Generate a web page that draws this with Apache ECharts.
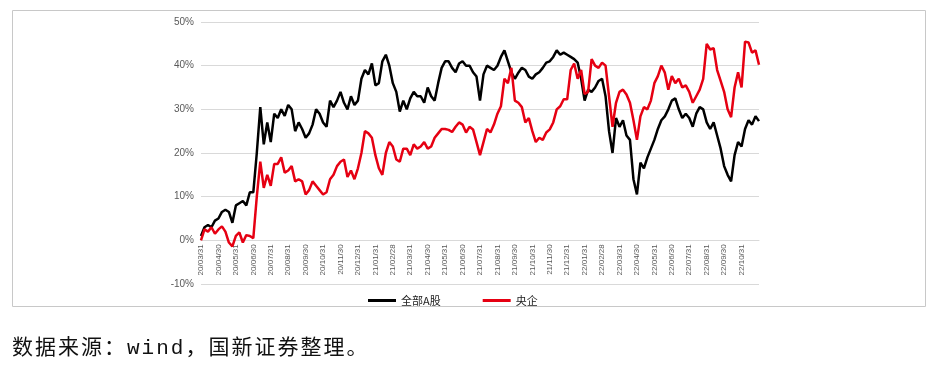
<!DOCTYPE html>
<html>
<head>
<meta charset="utf-8">
<script src="https://cdn.jsdelivr.net/npm/echarts@6/dist/echarts.min.js"></script>
<style>
  html, body { margin: 0; padding: 0; background: #fff; }
  #chart { width: 939px; height: 376px; position: absolute; left: 0; top: 0; }
  #note {
    position: absolute; left: 12px; top: 330px;
    font-family: "Liberation Mono", "Noto Sans CJK SC", sans-serif;
    font-size: 21px; letter-spacing: 2px; color: #111;
  }
</style>
</head>
<body>
<div id="chart"></div>
<div id="note">数据来源：wind，国新证券整理。</div>
<script>
// month-end tick labels, 5 points per month (first point = 20/03/31)
const monthLabels = [
    "20/03/31", "20/04/30", "20/05/31", "20/06/30", "20/07/31", "20/08/31",
    "20/09/30", "20/10/31", "20/11/30", "20/12/31", "21/01/31", "21/02/28",
    "21/03/31", "21/04/30", "21/05/31", "21/06/30", "21/07/31", "21/08/31",
    "21/09/30", "21/10/31", "21/11/30", "21/12/31", "22/01/31", "22/02/28",
    "22/03/31", "22/04/30", "22/05/31", "22/06/30", "22/07/31", "22/08/31",
    "22/09/30", "22/10/31"
];
const pointsPerMonth = 5;

const yTicks = [-10, 0, 10, 20, 30, 40, 50];

// 全部A股 (%)
const allA = [
    1, 3, 3.5, 3, 4.5, 5, 6.5, 7, 6.5, 4,
    8, 8.5, 9, 8, 11, 11, 20, 30.5, 22, 27,
    22.5, 29, 28, 30, 28.5, 31, 30, 25, 27, 25.5,
    23.5, 24.5, 26.5, 30, 29, 27, 26, 32, 30.5, 32,
    34, 31.5, 30, 33, 31, 32, 37, 39, 38, 40.5,
    35.5, 36, 41, 42.5, 40, 36, 34, 29.5, 32, 30,
    32.5, 34, 33, 33, 31.5, 35, 33, 32, 36, 39.5,
    41, 41, 39.5, 38.5, 40.5, 41, 40, 40, 38.5, 37.5,
    32, 38, 40, 39.5, 39, 40, 42, 43.5, 41, 38.5,
    37, 38.4, 39.5, 39, 37.5, 37, 38, 38.5, 39.5, 40.7,
    41, 42, 43.5, 42.5, 43, 42.5, 42, 41.5, 40.7, 37,
    32, 34.5, 34, 35, 36.5, 37, 33, 25, 20, 28,
    26, 27.5, 24, 23, 14, 10.5, 17.8, 16.5, 19, 21,
    23, 25.5, 27.5, 28.4, 30, 32, 32.5, 30, 28, 29,
    28, 26, 29, 30.5, 30, 27, 25.5, 27, 24, 21,
    17, 15, 13.5, 19.5, 22.5, 21.5, 25.5, 27.5, 26.5, 28.4,
    27.3
];

// 央企 (%)
const soe = [
    0, 2.5, 2, 3, 1.5, 2.5, 3.2, 2, -0.5, -1.4,
    1, 1.8, -0.5, 1.2, 1, 0.5, 10, 18, 12, 15,
    12.5, 17.5, 17.5, 19, 15.5, 16, 17, 13.5, 14, 13.5,
    10.5, 11.5, 13.5, 12.5, 11.5, 10.5, 11, 14, 15, 17,
    18, 18.5, 14.5, 16, 14, 16.5, 20, 25, 24.5, 23.5,
    19.5, 16.5, 15, 20, 22.5, 21.5, 18.5, 18, 21, 21,
    19.5, 22, 21, 21.5, 22.5, 21, 21.5, 23.5, 24.5, 25.5,
    25.5, 25.3, 24.8, 26, 27, 26.5, 24.7, 26, 25.4, 22.5,
    19.5, 22.5, 25.5, 24.7, 26.5, 29, 30.7, 37, 36, 39.5,
    32, 31.5, 30.5, 27, 28, 25, 22.5, 23.5, 23, 24.7,
    25.4, 27, 30, 30.7, 32.3, 32.3, 39, 40.5, 37, 39,
    33.5, 34, 41.5, 40, 39.5, 40.7, 40, 33, 26, 31.5,
    34, 34.5, 33.4, 31.5, 27.5, 23, 28.4, 30.5, 30, 32,
    36, 37.6, 40, 38.4, 34.5, 37.6, 36, 37, 35, 35.5,
    34, 31.5, 33, 34.5, 37, 45, 43.7, 44, 39, 36.5,
    34, 30, 28.2, 35, 38.5, 35, 45.5, 45.3, 43, 43.5,
    40.2
];

// category keys: month-end points carry the label, others get a hidden key
const categories = allA.map((_, i) => {
    const m = i / pointsPerMonth;
    return i % pointsPerMonth === 0 && m < monthLabels.length ? monthLabels[m] : `p${i}`;
});

const chart = echarts.init(document.getElementById("chart"));

const option = {
    animation: false,
    textStyle: { fontFamily: "Liberation Sans, Arial, sans-serif" },
    graphic: [{
        type: "rect",
        shape: { x: 12.5, y: 10.5, width: 913, height: 296 },
        style: { fill: "none", stroke: "#c8c8c8", lineWidth: 1 },
        silent: true
    }],
    grid: { left: 201, right: 180, top: 22, bottom: 92 },
    legend: {
        left: 363,
        top: 290,
        icon: "rect",
        itemWidth: 28,
        itemHeight: 3,
        itemGap: 42,
        textStyle: { fontSize: 11, color: "#222", fontFamily: "Noto Sans CJK SC" },
        data: ["全部A股", "央企"]
    },
    xAxis: {
        type: "category",
        boundaryGap: false,
        data: categories,
        // category axis sits on the 0% line, like the source
        offset: -43.7,
        axisLine: { onZero: false, lineStyle: { color: "#d9d9d9" } },
        axisTick: { show: false },
        axisLabel: {
            interval: (i, v) => !v.startsWith("p"),
            formatter: (v) => (v.startsWith("p") ? "" : v),
            rotate: 90,
            fontSize: 8,
            color: "#595959",
            margin: 4
        }
    },
    yAxis: {
        type: "value",
        min: yTicks[0],
        max: yTicks[yTicks.length - 1],
        interval: 10,
        axisLine: { show: false },
        axisTick: { show: false },
        splitLine: { lineStyle: { color: "#d9d9d9", width: 1 } },
        axisLabel: {
            formatter: (v) => `${v}%`,
            fontSize: 10,
            color: "#595959",
            margin: 7
        }
    },
    series: [
        {
            name: "全部A股",
            type: "line",
            data: allA,
            symbol: "none",
            lineStyle: { color: "#000", width: 2.5 },
            itemStyle: { color: "#000" }
        },
        {
            name: "央企",
            type: "line",
            data: soe,
            symbol: "none",
            lineStyle: { color: "#e60012", width: 2.5 },
            itemStyle: { color: "#e60012" }
        }
    ]
};

chart.setOption(option);
</script>
</body>
</html>
